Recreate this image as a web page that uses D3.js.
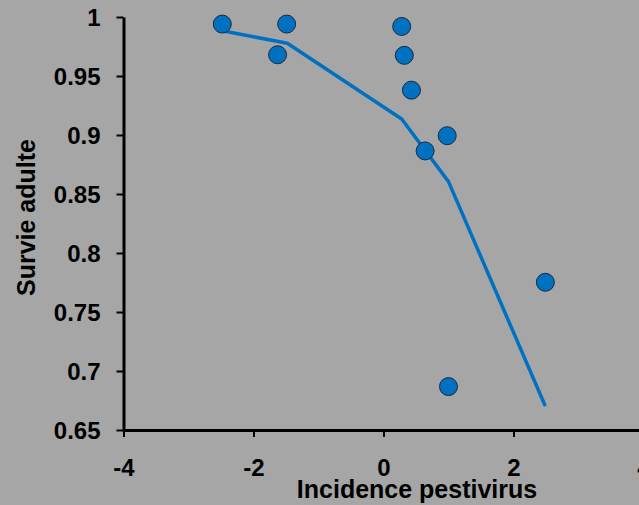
<!DOCTYPE html>
<html>
<head>
<meta charset="utf-8">
<script src="https://cdn.jsdelivr.net/npm/d3@7"></script>
<style>
  html, body { margin: 0; padding: 0; background: #a6a6a6; }
  svg { display: block; }
</style>
</head>
<body>
<svg id="chart" width="639" height="505"></svg>
<script>
// ---- data ----
const pointX = [-2.48, -1.49, -1.63, 0.28, 0.32, 0.43, 0.98, 0.64, 2.49, 1.00];
const pointY = [0.994, 0.994, 0.968, 0.992, 0.9675, 0.938, 0.8994, 0.8865, 0.7752, 0.6868];
const fitX = [-2.48, -1.48, 0.28, 1.00, 2.48];
const fitY = [0.9884, 0.9777, 0.9136, 0.8605, 0.6714];
const xTicks = [-4, -2, 0, 2, 4];
const xTickLabels = ["-4", "-2", "0", "2", "4"];
const yTicks = [0.65, 0.7, 0.75, 0.8, 0.85, 0.9, 0.95, 1];
const yTickLabels = ["0.65", "0.7", "0.75", "0.8", "0.85", "0.9", "0.95", "1"];
const xTitle = "Incidence pestivirus";
const yTitle = "Survie adulte";

// ---- layout ----
const svg = d3.select("#chart");
const W = 639, H = 505;
svg.append("rect").attr("width", W).attr("height", H).attr("fill", "#a6a6a6");

const x = d3.scaleLinear().domain([-4, 4]).range([123.5, 643.5]);
const y = d3.scaleLinear().domain([0.65, 1]).range([430, 17]);

const font = "'Liberation Sans', Arial, sans-serif";

// y axis
const yAxis = d3.axisLeft(y).tickValues(yTicks)
  .tickFormat((d, i) => yTickLabels[i]).tickSize(7).tickPadding(16).tickSizeOuter(0);
const gy = svg.append("g").attr("transform", `translate(${x(-4)},0)`).call(yAxis);
gy.select(".domain").attr("stroke", "#000").attr("stroke-width", 3);
gy.selectAll(".tick line").attr("stroke", "#000").attr("stroke-width", 2);
gy.selectAll(".tick text").attr("fill", "#000")
  .style("font-family", font).style("font-size", "24px").style("font-weight", "bold")
  .attr("dy", "0.35em");

// x axis
const xAxis = d3.axisBottom(x).tickValues(xTicks)
  .tickFormat((d, i) => xTickLabels[i]).tickSize(7).tickPadding(12).tickSizeOuter(0);
const gx = svg.append("g").attr("transform", `translate(0,${y(0.65)})`).call(xAxis);
gx.select(".domain").attr("stroke", "#000").attr("stroke-width", 3);
gx.selectAll(".tick line").attr("stroke", "#000").attr("stroke-width", 2);
gx.selectAll(".tick text").attr("fill", "#000")
  .style("font-family", font).style("font-size", "24px").style("font-weight", "bold")
  .attr("y", 46).attr("dy", 0);

// fitted line
const fit = fitX.map((v, i) => [v, fitY[i]]);
svg.append("path").datum(fit)
  .attr("fill", "none").attr("stroke", "#0070c0").attr("stroke-width", 3.5)
  .attr("stroke-linecap", "round").attr("stroke-linejoin", "round")
  .attr("d", d3.line().x(d => x(d[0])).y(d => y(d[1])));

// points
const pts = pointX.map((v, i) => [v, pointY[i]]);
svg.append("g").selectAll("circle").data(pts).join("circle")
  .attr("cx", d => x(d[0])).attr("cy", d => y(d[1])).attr("r", 9)
  .attr("fill", "#0070c0").attr("stroke", "#1a2a3a").attr("stroke-width", 1);

// titles
svg.append("text").attr("x", 417).attr("y", 497.5).attr("text-anchor", "middle")
  .style("font-family", font).style("font-size", "25px").style("font-weight", "bold")
  .attr("fill", "#000").text(xTitle);
svg.append("text").attr("transform", "translate(35,217.5) rotate(-90)").attr("text-anchor", "middle")
  .style("font-family", font).style("font-size", "25px").style("font-weight", "bold")
  .attr("fill", "#000").text(yTitle);
</script>
</body>
</html>
